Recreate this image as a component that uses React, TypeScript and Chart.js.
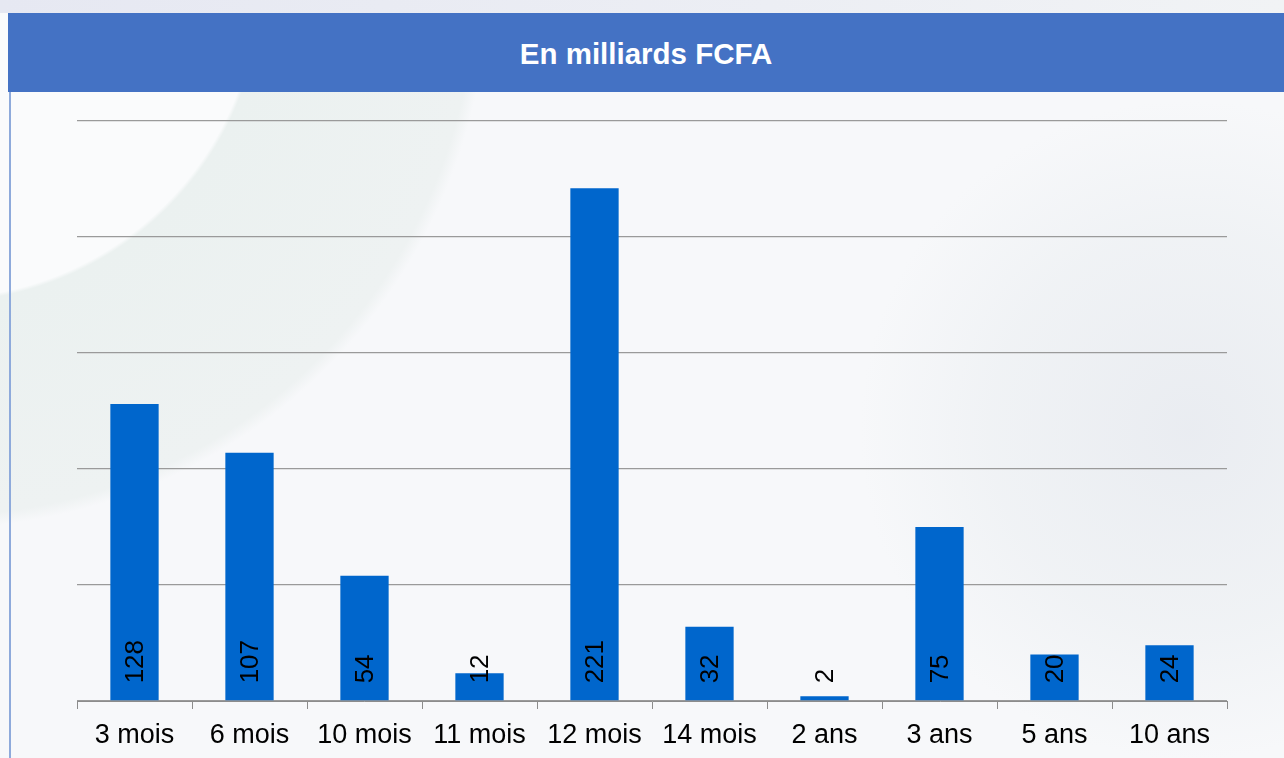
import React, { useEffect, useRef } from "react";
import { Chart, registerables } from "chart.js";

Chart.register(...registerables);

const TITLE = "En milliards FCFA";
const categories = ["3 mois", "6 mois", "10 mois", "11 mois", "12 mois", "14 mois", "2 ans", "3 ans", "5 ans", "10 ans"];
const values = [128, 107, 54, 12, 221, 32, 2, 75, 20, 24];
const yMin = 0;
const yMax = 250;
const yStep = 50;

const FONT = "'Liberation Sans', Arial, Helvetica, sans-serif";

const barLabelPlugin = {
  id: "barLabels",
  afterDatasetsDraw(chart: any) {
    const ctx = chart.ctx;
    const meta = chart.getDatasetMeta(0);
    ctx.save();
    ctx.fillStyle = "#000000";
    ctx.font = `26px ${FONT}`;
    ctx.textAlign = "left";
    ctx.textBaseline = "middle";
    meta.data.forEach((bar: any, i: number) => {
      const v = chart.data.datasets[0].data[i];
      ctx.save();
      ctx.translate(bar.x + 1, bar.base - 17);
      ctx.rotate(-Math.PI / 2);
      ctx.fillText(String(v), 0, 0);
      ctx.restore();
    });
    ctx.restore();
  },
};

export default function App() {
  const canvasRef = useRef<HTMLCanvasElement | null>(null);

  useEffect(() => {
    if (!canvasRef.current) return;
    const chart = new Chart(canvasRef.current, {
      type: "bar",
      data: {
        labels: categories,
        datasets: [
          {
            data: values,
            backgroundColor: "#0066CC",
            borderWidth: 0,
            categoryPercentage: 1,
            barPercentage: 0.42,
          },
        ],
      },
      options: {
        animation: false,
        responsive: true,
        maintainAspectRatio: false,
        layout: { padding: { left: 67, right: 57, top: 29, bottom: 0 } },
        plugins: {
          legend: { display: false },
          tooltip: { enabled: false },
          title: { display: false },
        },
        scales: {
          x: {
            afterFit: (scale: any) => {
              scale.height = 57;
            },
            grid: {
              display: true,
              drawOnChartArea: false,
              drawTicks: true,
              tickLength: 8,
              offset: true,
              color: "#8c8c8c",
            },
            border: { display: true, color: "#8c8c8c", width: 1 },
            ticks: {
              color: "#000000",
              font: { family: FONT, size: 27 },
              padding: 10,
              maxRotation: 0,
              autoSkip: false,
            },
          },
          y: {
            min: yMin,
            max: yMax,
            ticks: { display: false, stepSize: yStep },
            grid: { color: "#9a9a9a", lineWidth: 1.3, drawTicks: false },
            border: { display: false },
          },
        },
      },
      plugins: [barLabelPlugin],
    });
    return () => chart.destroy();
  }, []);

  return (
    <div
      style={{
        position: "absolute",
        left: 0,
        top: 0,
        width: 1284,
        height: 758,
        overflow: "hidden",
        background:
          "radial-gradient(circle at -60px -20px, #fafbfc 0px, #fafbfc 318px, #ebf1f0 322px, #eef2f2 535px, rgba(247,248,250,0) 548px), radial-gradient(circle at 1190px 430px, rgba(232,235,240,0.9) 0px, rgba(237,240,243,0.7) 200px, rgba(247,248,250,0) 330px), #f7f8fa",
      }}
    >
      <div
        style={{
          position: "absolute",
          left: 0,
          top: 0,
          width: 1284,
          height: 13,
          background: "linear-gradient(90deg, #e6e8f2 0%, #eceef4 60%, #f1f3f5 100%)",
        }}
      />
      <div
        style={{
          position: "absolute",
          left: 8,
          top: 13,
          width: 1276,
          height: 79,
          background: "#4472C4",
          color: "#ffffff",
          fontFamily: FONT,
          fontWeight: "bold",
          fontSize: 29.5,
          display: "flex",
          alignItems: "center",
          justifyContent: "center",
          paddingTop: 2,
          boxSizing: "border-box",
        }}
      >
        {TITLE}
      </div>
      <div
        style={{
          position: "absolute",
          left: 9,
          top: 92,
          width: 2,
          height: 666,
          background: "#8eaadb",
        }}
      />
      <div style={{ position: "absolute", left: 10, top: 92, width: 1274, height: 666 }}>
        <canvas ref={canvasRef} />
      </div>
    </div>
  );
}
